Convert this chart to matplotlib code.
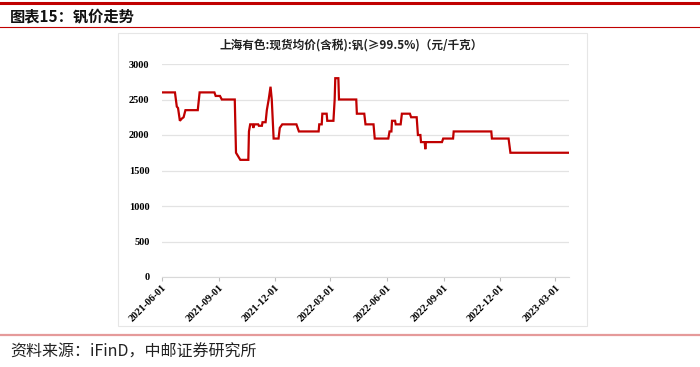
import matplotlib
matplotlib.use("Agg")
import matplotlib.pyplot as plt
import pandas as pd
from matplotlib.lines import Line2D
from matplotlib.patches import Rectangle

plt.rcParams['font.family'] = ['Noto Sans CJK SC', 'DejaVu Sans']

dates = ["2021-06-01", "2021-06-22", "2021-06-25", "2021-06-27", "2021-06-30", "2021-07-03",
         "2021-07-06", "2021-07-09", "2021-07-29", "2021-08-01", "2021-08-25", "2021-08-27",
         "2021-09-03", "2021-09-06", "2021-09-27", "2021-09-29", "2021-10-06", "2021-10-19",
         "2021-10-20", "2021-10-22", "2021-10-26", "2021-10-27", "2021-10-29", "2021-11-04",
         "2021-11-05", "2021-11-10", "2021-11-11", "2021-11-16", "2021-11-18", "2021-11-21",
         "2021-11-24", "2021-11-26", "2021-11-29", "2021-12-07", "2021-12-09", "2021-12-13",
         "2022-01-05", "2022-01-09", "2022-02-10", "2022-02-11", "2022-02-15", "2022-02-16",
         "2022-02-23", "2022-02-24", "2022-03-06", "2022-03-08", "2022-03-09", "2022-03-14",
         "2022-03-15", "2022-04-12", "2022-04-13", "2022-04-25", "2022-04-27", "2022-05-10",
         "2022-05-12", "2022-06-03", "2022-06-05", "2022-06-08", "2022-06-09", "2022-06-14",
         "2022-06-15", "2022-06-23", "2022-06-25", "2022-07-08", "2022-07-10", "2022-07-19",
         "2022-07-21", "2022-07-25", "2022-07-26", "2022-08-01", "2022-08-02", "2022-08-03",
         "2022-08-29", "2022-08-31", "2022-09-16", "2022-09-17", "2022-11-17", "2022-11-18",
         "2022-12-15", "2022-12-18", "2023-03-23"]
prices = [2600, 2600, 2400, 2380, 2200, 2230,
          2250, 2350, 2350, 2600, 2600, 2550,
          2550, 2500, 2500, 1750, 1650, 1650,
          2050, 2150, 2150, 2100, 2150, 2150,
          2130, 2130, 2180, 2180, 2350, 2500,
          2680, 2500, 1950, 1950, 2100, 2150,
          2150, 2050, 2050, 2150, 2150, 2300,
          2300, 2200, 2200, 2500, 2800, 2800,
          2500, 2500, 2300, 2300, 2150, 2150,
          1950, 1950, 2050, 2050, 2200, 2200,
          2150, 2150, 2300, 2300, 2250, 2250,
          2000, 2000, 1900, 1900, 1800, 1900,
          1900, 1950, 1950, 2050, 2050, 1950,
          1950, 1750, 1750]
tick_labels = ["2021-06-01", "2021-09-01", "2021-12-01", "2022-03-01",
               "2022-06-01", "2022-09-01", "2022-12-01", "2023-03-01"]
y_ticks = [0, 500, 1000, 1500, 2000, 2500, 3000]

W, H = 700, 367
fig = plt.figure(figsize=(7, 3.67), dpi=100)

def fx(px): return px / W
def fy(py): return 1 - py / H

# decorative lines
fig.add_artist(Line2D([0, 1], [fy(2.5), fy(2.5)], color='#C00000', lw=2.2))
fig.add_artist(Line2D([0, 1], [fy(27), fy(27)], color='#C00000', lw=0.8))
fig.add_artist(Line2D([0, 1], [fy(335), fy(335)], color='#E59A9A', lw=1.6))
fig.add_artist(Rectangle((fx(118), fy(326)), fx(587) - fx(118), fy(33) - fy(326),
                         fill=False, edgecolor='#E6E6E6', lw=0.8))

fig.text(fx(10), fy(16), "图表15：钒价走势", fontsize=11, fontweight='bold',
         va='center', ha='left', color='#111111')
fig.text(fx(10), fy(352), "资料来源：iFinD，中邮证券研究所", fontsize=11.5,
         va='center', ha='left', color='#222222')
fig.text(fx(351), fy(45), "上海有色:现货均价(含税):钒(≥99.5%)（元/千克）", fontsize=8.4,
         fontweight='bold', va='center', ha='center', color='#222222')

x = pd.to_datetime(dates)
x0 = pd.Timestamp("2021-06-01")
x1 = pd.Timestamp("2023-03-23")

ax = fig.add_axes([fx(162), fy(277), fx(569) - fx(162), fy(64) - fy(277)])
ax.plot(x, prices, color='#C00000', lw=1.6, solid_joinstyle='miter')
ax.set_xlim(x0, x1)
ax.set_ylim(0, 3000)
ax.set_yticks(y_ticks)
ax.set_yticklabels([str(v) for v in y_ticks], fontfamily='Liberation Serif',
                   fontweight='bold', fontsize=7.5)
ax.set_xticks(pd.to_datetime(tick_labels))
ax.set_xticklabels(tick_labels, rotation=45, ha='right', rotation_mode='anchor',
                   fontfamily='Liberation Serif', fontweight='bold', fontsize=7.5)
ax.grid(axis='y', color='#E3E3E3', lw=0.9)
ax.set_axisbelow(True)
for s in ['top', 'right', 'left']:
    ax.spines[s].set_visible(False)
ax.spines['bottom'].set_color('#D9D9D9')
ax.tick_params(axis='y', length=0, pad=9)
ax.tick_params(axis='x', length=3, color='#BFBFBF', pad=1)

fig.savefig("out.png", dpi=100)
